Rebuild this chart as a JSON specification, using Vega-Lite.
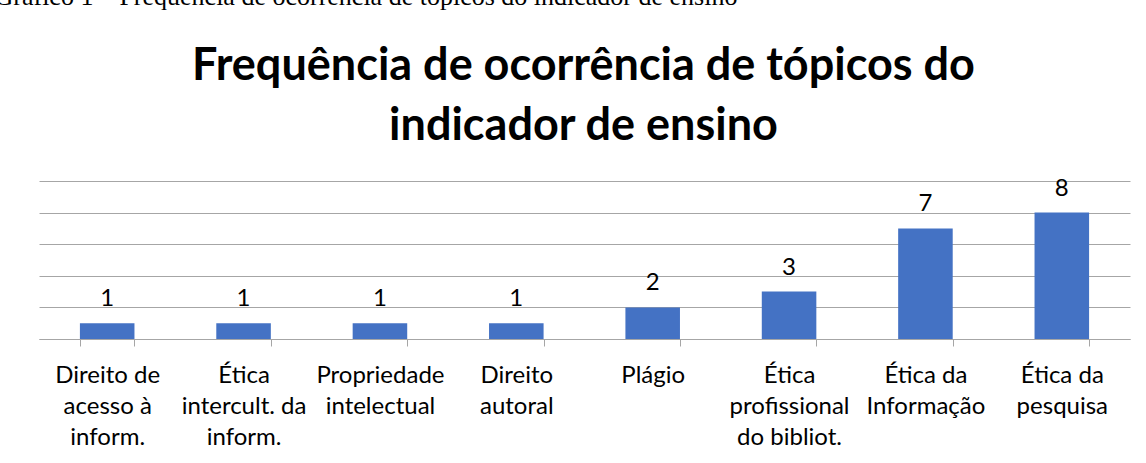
{
  "$schema": "https://vega.github.io/schema/vega-lite/v6.json",
  "autosize": {"type": "none"},
  "padding": {"left": 39, "top": 181, "right": 16, "bottom": 124},
  "width": 1091,
  "height": 158,
  "background": "white",
  "data": {
    "values": [
      {"topic": "Direito de|acesso à|inform.", "freq": 1},
      {"topic": "Ética|intercult. da|inform.", "freq": 1},
      {"topic": "Propriedade|intelectual", "freq": 1},
      {"topic": "Direito|autoral", "freq": 1},
      {"topic": "Plágio", "freq": 2},
      {"topic": "Ética|profissional|do bibliot.", "freq": 3},
      {"topic": "Ética da|Informação", "freq": 7},
      {"topic": "Ética da|pesquisa", "freq": 8}
    ]
  },
  "encoding": {
    "x": {
      "field": "topic",
      "type": "nominal",
      "sort": null,
      "scale": {"paddingInner": 0.6, "paddingOuter": 0.3},
      "axis": {
        "title": "Gráfico 1 – Frequência de ocorrência de tópicos do indicador de ensino",
        "titleAngle": 0,
        "titleAlign": "left",
        "titleAnchor": "start",
        "titleBaseline": "alphabetic",
        "titleX": -45,
        "titleY": -335,
        "titleFont": "Liberation Serif",
        "titleFontSize": 26,
        "titleFontWeight": "normal",
        "titleColor": "#000000",
        "labelExpr": "split(datum.label, '|')",
        "labelAngle": 0,
        "labelFont": "Lato",
        "labelFontSize": 24,
        "labelColor": "#000000",
        "labelLineHeight": 31,
        "labelPadding": 36,
        "labelBaseline": "alphabetic",
        "tickBand": "extent",
        "tickSize": 7,
        "tickColor": "#a6a6a6",
        "domainColor": "#a6a6a6",
        "labelLimit": 200,
        "grid": false
      }
    },
    "y": {
      "field": "freq",
      "type": "quantitative",
      "scale": {"domain": [0, 10]},
      "axis": {
        "values": [0, 2, 4, 6, 8, 10],
        "grid": true,
        "gridColor": "#a6a6a6",
        "labels": false,
        "ticks": false,
        "domain": false,
        "title": ["Frequência de ocorrência de tópicos do", "indicador de ensino"],
        "titleAngle": 0,
        "titleAlign": "center",
        "titleBaseline": "alphabetic",
        "titleX": 544,
        "titleY": -102,
        "titleLineHeight": 60,
        "titleFont": "Lato",
        "titleFontSize": 45,
        "titleFontWeight": "bold",
        "titleColor": "#000000"
      }
    }
  },
  "layer": [
    {"mark": {"type": "bar", "color": "#4472C4"}},
    {
      "mark": {"type": "text", "baseline": "alphabetic", "dy": -17, "font": "Lato", "fontSize": 24, "color": "#000000"},
      "encoding": {"text": {"field": "freq", "type": "quantitative"}}
    }
  ],
  "config": {"view": {"stroke": null}}
}
